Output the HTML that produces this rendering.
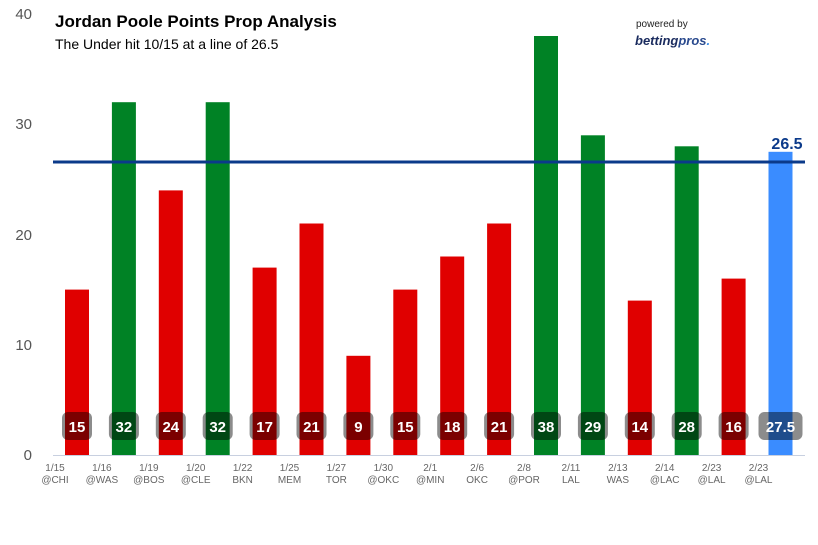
<!DOCTYPE html>
<html><head><style>body{margin:0;background:#fff}svg{display:block;font-family:"Liberation Sans",sans-serif}</style></head><body>
<svg width="818" height="545" xmlns="http://www.w3.org/2000/svg">
<g fill="#555" font-size="15" text-anchor="end">
<text x="32" y="460">0</text><text x="32" y="350">10</text><text x="32" y="240">20</text><text x="32" y="129">30</text><text x="32" y="19">40</text>
</g>
<text x="55" y="27" font-size="17" font-weight="bold" fill="#000">Jordan Poole Points Prop Analysis</text>
<text x="55" y="49" font-size="14" fill="#000">The Under hit 10/15 at a line of 26.5</text>
<text x="636" y="27" font-size="10" fill="#222">powered by</text>
<text x="635" y="45" font-size="13" font-weight="bold" font-style="italic" fill="#1a2b5e">betting<tspan fill="#2a4a8e">pros</tspan><tspan fill="#3a8ee6">.</tspan></text>
<line x1="53" y1="455.5" x2="805" y2="455.5" stroke="#c8d0e0" stroke-width="1"/>
<g>
<rect x="65" y="289.6" width="24" height="165.4" fill="#e00000"/>
<rect x="111.9" y="102.2" width="24" height="352.8" fill="#008225"/>
<rect x="158.8" y="190.4" width="24" height="264.6" fill="#e00000"/>
<rect x="205.7" y="102.2" width="24" height="352.8" fill="#008225"/>
<rect x="252.6" y="267.6" width="24" height="187.4" fill="#e00000"/>
<rect x="299.5" y="223.5" width="24" height="231.5" fill="#e00000"/>
<rect x="346.4" y="355.8" width="24" height="99.2" fill="#e00000"/>
<rect x="393.3" y="289.6" width="24" height="165.4" fill="#e00000"/>
<rect x="440.2" y="256.5" width="24" height="198.5" fill="#e00000"/>
<rect x="487.1" y="223.5" width="24" height="231.5" fill="#e00000"/>
<rect x="534" y="36" width="24" height="419" fill="#008225"/>
<rect x="580.9" y="135.3" width="24" height="319.7" fill="#008225"/>
<rect x="627.8" y="300.6" width="24" height="154.4" fill="#e00000"/>
<rect x="674.7" y="146.3" width="24" height="308.7" fill="#008225"/>
<rect x="721.6" y="278.6" width="24" height="176.4" fill="#e00000"/>
<rect x="768.5" y="151.8" width="24" height="303.2" fill="#3a8cff"/>
</g>
<g fill="rgba(0,0,0,0.45)">
<rect x="62" y="412" width="30" height="28" rx="6"/>
<rect x="108.9" y="412" width="30" height="28" rx="6"/>
<rect x="155.8" y="412" width="30" height="28" rx="6"/>
<rect x="202.7" y="412" width="30" height="28" rx="6"/>
<rect x="249.6" y="412" width="30" height="28" rx="6"/>
<rect x="296.5" y="412" width="30" height="28" rx="6"/>
<rect x="343.4" y="412" width="30" height="28" rx="6"/>
<rect x="390.3" y="412" width="30" height="28" rx="6"/>
<rect x="437.2" y="412" width="30" height="28" rx="6"/>
<rect x="484.1" y="412" width="30" height="28" rx="6"/>
<rect x="531" y="412" width="30" height="28" rx="6"/>
<rect x="577.9" y="412" width="30" height="28" rx="6"/>
<rect x="624.8" y="412" width="30" height="28" rx="6"/>
<rect x="671.7" y="412" width="30" height="28" rx="6"/>
<rect x="718.6" y="412" width="30" height="28" rx="6"/>
<rect x="758.5" y="412" width="44" height="28" rx="6"/>
</g>
<g fill="#fff" font-size="15" font-weight="bold" text-anchor="middle">
<text x="77" y="432">15</text><text x="123.9" y="432">32</text><text x="170.8" y="432">24</text><text x="217.7" y="432">32</text>
<text x="264.6" y="432">17</text><text x="311.5" y="432">21</text><text x="358.4" y="432">9</text><text x="405.3" y="432">15</text>
<text x="452.2" y="432">18</text><text x="499.1" y="432">21</text><text x="546" y="432">38</text><text x="592.9" y="432">29</text>
<text x="639.8" y="432">14</text><text x="686.7" y="432">28</text><text x="733.6" y="432">16</text><text x="780.5" y="432">27.5</text>
</g>
<g fill="#666" font-size="10" text-anchor="middle">
<text x="55" y="471">1/15</text><text x="55" y="483">@CHI</text>
<text x="101.9" y="471">1/16</text><text x="101.9" y="483">@WAS</text>
<text x="148.8" y="471">1/19</text><text x="148.8" y="483">@BOS</text>
<text x="195.7" y="471">1/20</text><text x="195.7" y="483">@CLE</text>
<text x="242.6" y="471">1/22</text><text x="242.6" y="483">BKN</text>
<text x="289.5" y="471">1/25</text><text x="289.5" y="483">MEM</text>
<text x="336.4" y="471">1/27</text><text x="336.4" y="483">TOR</text>
<text x="383.3" y="471">1/30</text><text x="383.3" y="483">@OKC</text>
<text x="430.2" y="471">2/1</text><text x="430.2" y="483">@MIN</text>
<text x="477.1" y="471">2/6</text><text x="477.1" y="483">OKC</text>
<text x="524" y="471">2/8</text><text x="524" y="483">@POR</text>
<text x="570.9" y="471">2/11</text><text x="570.9" y="483">LAL</text>
<text x="617.8" y="471">2/13</text><text x="617.8" y="483">WAS</text>
<text x="664.7" y="471">2/14</text><text x="664.7" y="483">@LAC</text>
<text x="711.6" y="471">2/23</text><text x="711.6" y="483">@LAL</text>
<text x="758.5" y="471">2/23</text><text x="758.5" y="483">@LAL</text>
</g>
<line x1="53" y1="162" x2="805" y2="162" stroke="#0b3a8a" stroke-width="3"/>
<text x="787" y="149" font-size="16" font-weight="bold" fill="#0b3a8a" text-anchor="middle">26.5</text>
</svg></body></html>
